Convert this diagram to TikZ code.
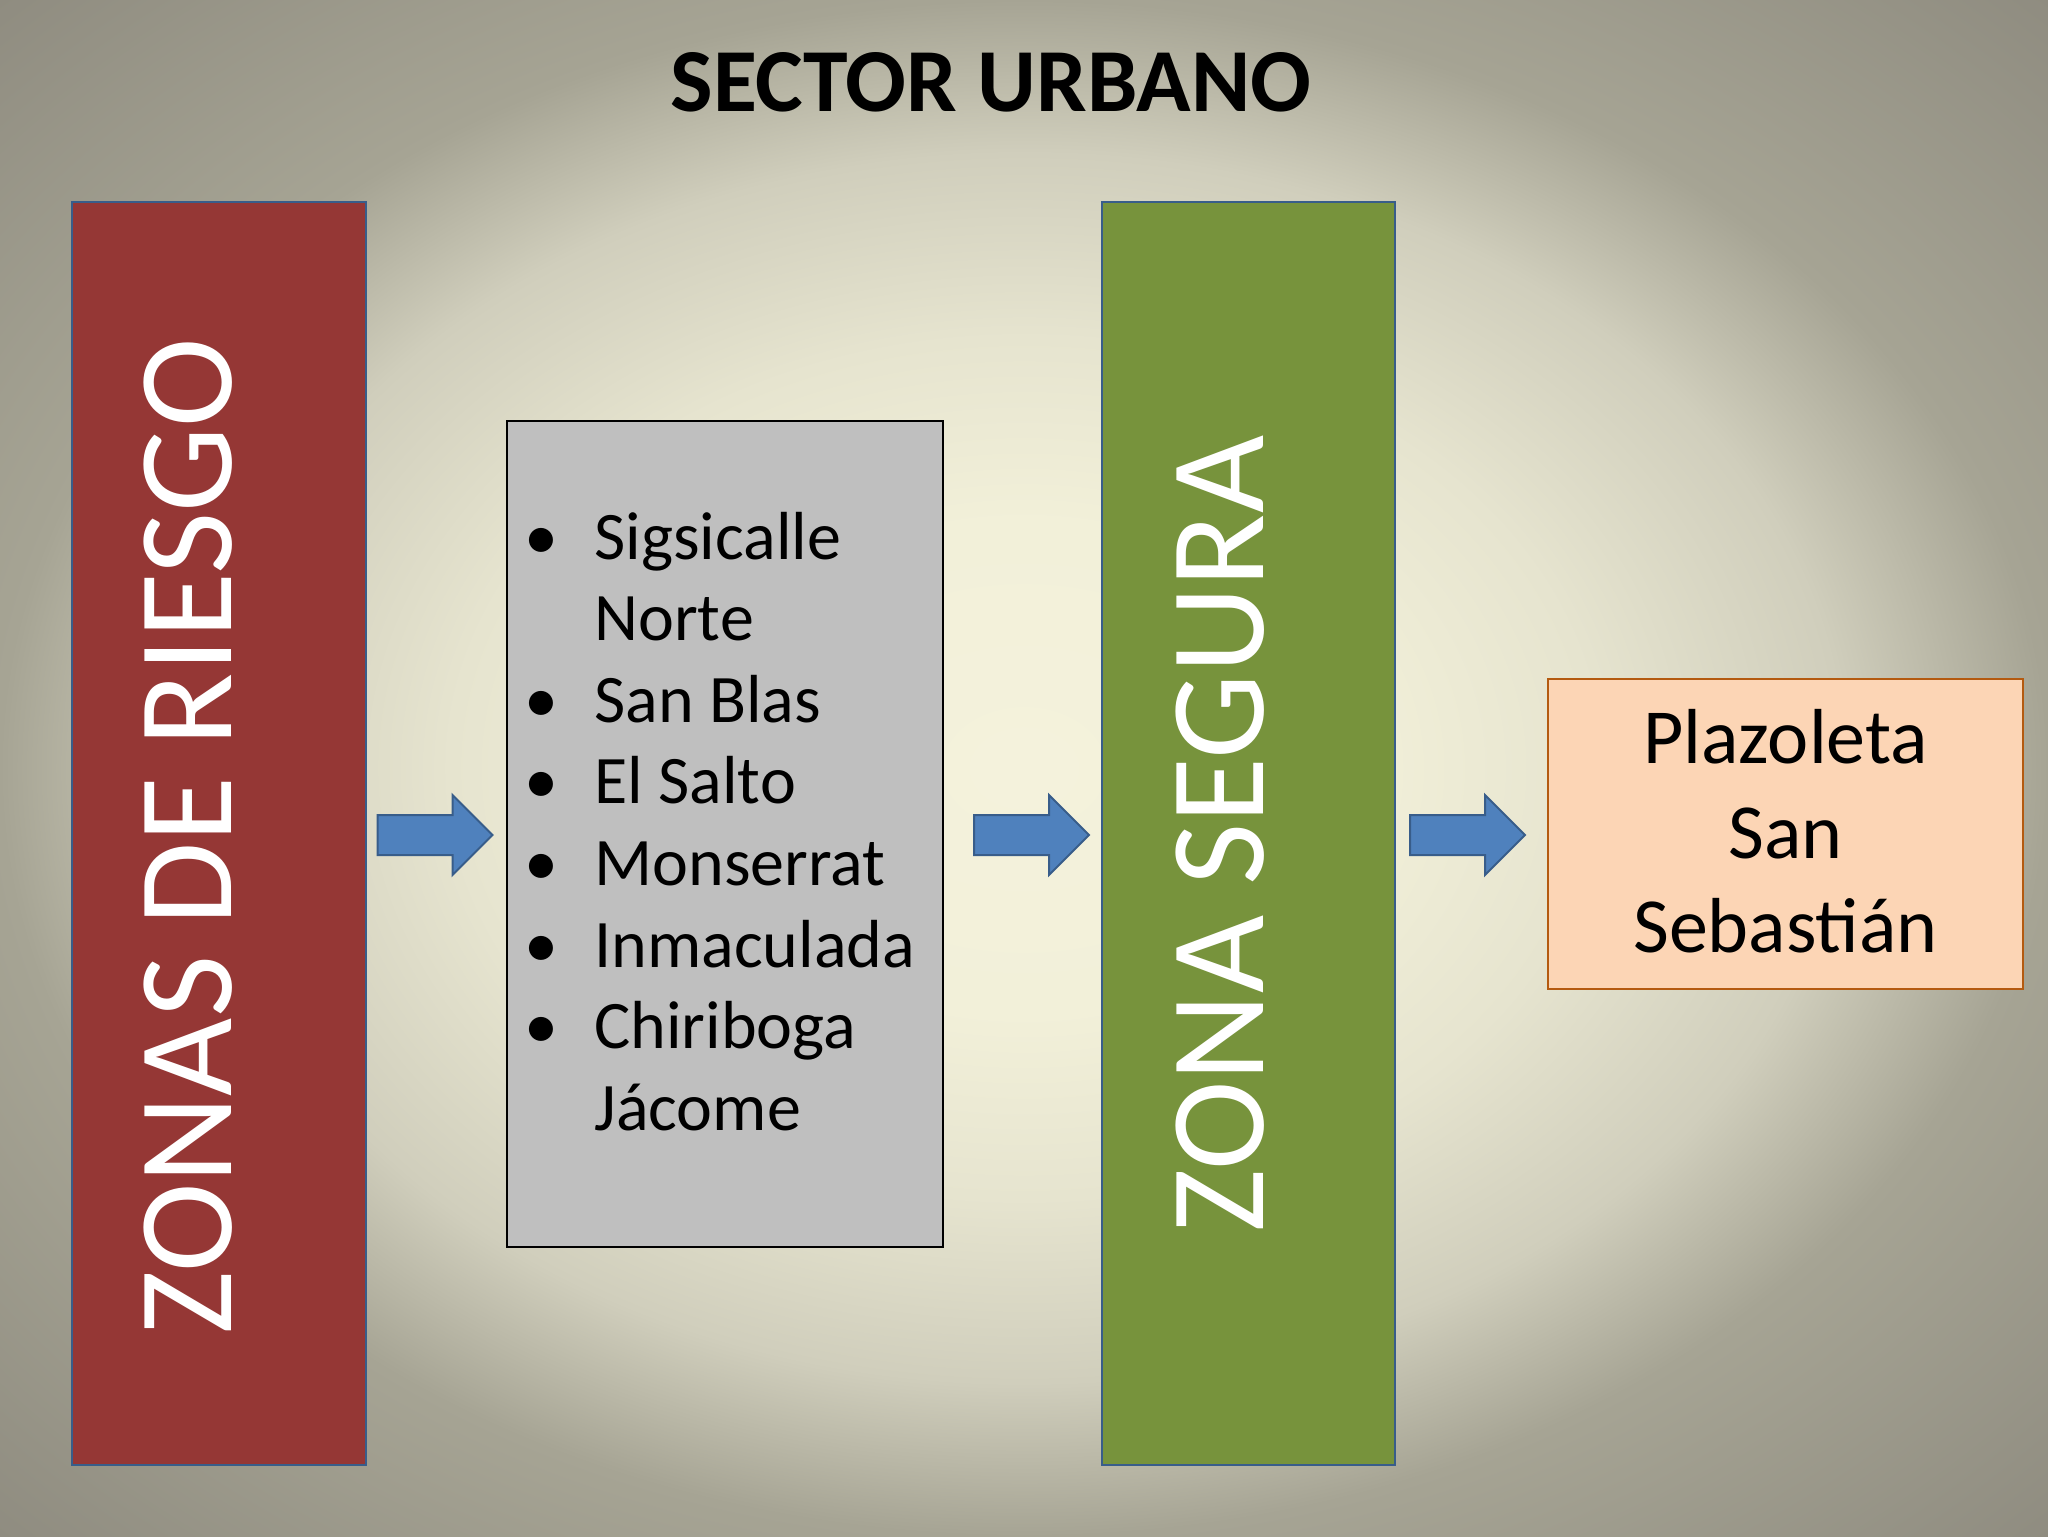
\documentclass[tikz,border=0pt]{standalone}
\usepackage{fontspec}
\setmainfont{Carlito}
\usetikzlibrary{shapes.arrows}
\definecolor{bgcentre}{HTML}{F4F2DC}
\definecolor{bginner}{HTML}{F2F0D9}
\definecolor{bglight}{HTML}{E6E4CF}
\definecolor{bgmid}{HTML}{D0CEBC}
\definecolor{bgedge}{HTML}{A6A494}
\definecolor{bgcorner}{HTML}{8F8C80}
\definecolor{riesgored}{HTML}{953735}
\definecolor{seguragreen}{HTML}{77933C}
\definecolor{boxline}{HTML}{385D8A}
\definecolor{listgray}{HTML}{BFBFBF}
\definecolor{plazafill}{HTML}{FCD5B5}
\definecolor{plazaline}{HTML}{B45A10}
\definecolor{arrowblue}{HTML}{4F81BD}
\pgfdeclareradialshading{slidebg}{\pgfpoint{0bp}{0bp}}{color(0bp)=(bgcentre); color(8bp)=(bginner); color(14bp)=(bglight); color(20bp)=(bgmid); color(25bp)=(bgedge); color(35.4bp)=(bgcorner); color(50bp)=(bgcorner)}
\begin{document}
\begin{tikzpicture}[x=0.5pt,y=-0.5pt,
		zonebox/.style={draw=boxline,line width=1pt,inner sep=0pt},
		zonetext/.style={rotate=90,anchor=base,inner sep=0pt,text=white,font=\fontsize{67.5}{80}\selectfont},
		blockarrow/.style={single arrow,draw=boxline,fill=arrowblue,line width=1pt,inner xsep=0pt,inner ysep=9.5pt,
			minimum height=57.5pt,minimum width=39pt,single arrow head extend=10pt},
		itemtext/.style={anchor=base west,inner sep=0pt,font=\fontsize{34}{41}\selectfont},
		itemdot/.style={anchor=base,inner sep=0pt,font=\fontsize{34}{41}\selectfont},
		plazatext/.style={anchor=base,inner sep=0pt,font=\fontsize{39}{47}\selectfont}]
	\useasboundingbox (0,0) rectangle (2048,1536);
	\shade[shading=slidebg] (0,0) rectangle (2048,1536);
	\node[anchor=base,inner sep=0pt,font=\bfseries\fontsize{45}{54}\selectfont] (titulo) at (991,112) {SECTOR URBANO};
	% columnas
	\node[zonebox,fill=riesgored,minimum width=147pt,minimum height=631.5pt] (riesgo) at (219,833.5) {};
	\node[zonetext] (riesgotxt) at (231,836) {ZONAS DE RIESGO};
	\node[draw=black,line width=1.2pt,fill=listgray,inner sep=0pt,minimum width=218pt,minimum height=413pt] (barrios) at (725,834) {};
	\node[zonebox,fill=seguragreen,minimum width=146.5pt,minimum height=631.5pt] (segura) at (1248.5,833.5) {};
	\node[zonetext] (seguratxt) at (1263,834) {ZONA SEGURA};
	\node[draw=plazaline,line width=1.2pt,fill=plazafill,inner sep=0pt,minimum width=237.5pt,minimum height=155pt] (plaza) at (1785.5,834) {};
	% flechas
	\node[blockarrow] (flechaA) at (425,835) {};
	\node[blockarrow] (flechaB) at (1021.5,835) {};
	\node[blockarrow] (flechaC) at (1457.5,835) {};
	% barrios
	\foreach \y/\txt [count=\i] in {559/Sigsicalle,640.6/Norte,722.2/San Blas,803.8/El Salto,885.4/Monserrat,967/Inmaculada,1048.6/Chiriboga,1130.2/Jácome}
		\node[itemtext] (item\i) at (594,\y) {\txt};
	\foreach \y [count=\i] in {559,722.2,803.8,885.4,967,1048.6}
		\node[itemdot] (dot\i) at (541,\y) {•};
	% destino
	\node[plazatext] (plazaA) at (1785.5,763) {Plazoleta};
	\node[plazatext] (plazaB) at (1785.5,858) {San};
	\node[plazatext] (plazaC) at (1785.5,952) {Sebastián};
\end{tikzpicture}
\end{document}
